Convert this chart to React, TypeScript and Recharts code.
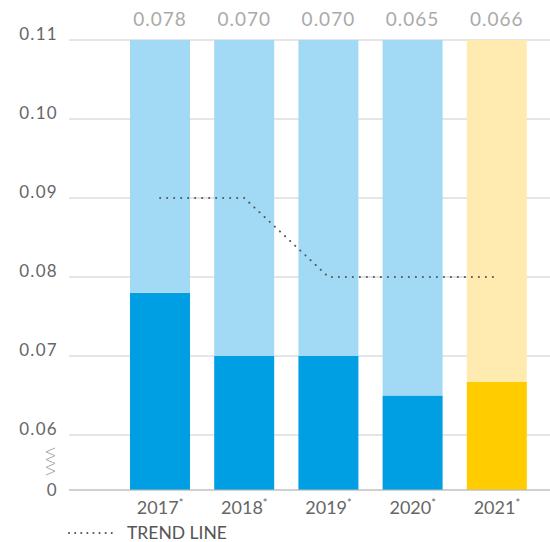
import React from 'react';
import { ComposedChart, Bar, Line, XAxis, YAxis, CartesianGrid, Cell, LabelList, Customized } from 'recharts';

const categories = ['2017', '2018', '2019', '2020', '2021'];
const values = [0.078, 0.07, 0.07, 0.065, 0.0667];
const valueLabels = ['0.078', '0.070', '0.070', '0.065', '0.066'];
const trend = [0.09, 0.09, 0.08, 0.08, 0.08];
const yTicks = [0, 0.06, 0.07, 0.08, 0.09, 0.1, 0.11];
const yMax = 0.11;
const breakAt = 0.06;

const darkColors = ['#009FE3', '#009FE3', '#009FE3', '#009FE3', '#FFCC00'];
const lightColors = ['#A2DAF6', '#A2DAF6', '#A2DAF6', '#A2DAF6', '#FFEBB0'];

// broken axis: the 0..0.06 span is compressed
const B = 0.01 * 55 / 79;
const f = (v: number) => (v >= breakAt ? v - breakAt + B : (v / breakAt) * B);

const data = categories.map((c, i) => ({
  name: c,
  dark: f(values[i]),
  light: f(yMax) - f(values[i]),
  trend: f(trend[i]),
  label: valueLabels[i],
}));

const FONT = 'Lato, "Noto Sans", sans-serif';

const YTick = (props: any) => {
  const { x, y, payload } = props;
  const idx = yTicks.findIndex((t) => Math.abs(f(t) - payload.value) < 1e-9);
  const v = idx >= 0 ? yTicks[idx] : 0;
  const txt = v === 0 ? '0' : v.toFixed(2);
  return (
    <text x={x} y={y} dy={v === 0 ? 6 : 0} textAnchor="end" fill="#666" fontSize={17} letterSpacing={1.3} fontFamily={FONT}>
      {txt}
    </text>
  );
};

const XTick = (props: any) => {
  const { x, y, payload } = props;
  return (
    <text x={x} y={y} dy={16} textAnchor="middle" fill="#666" fontSize={18} fontFamily={FONT}>
      {payload.value}
      <tspan fontSize={11} dy={-7}>*</tspan>
    </text>
  );
};

const Zigzag = () => {
  const pts: string[] = [];
  const n = 7;
  for (let i = 0; i <= n; i++) {
    const yy = 448 + (i * 27) / n;
    const xx = i % 2 === 0 ? 55 : 46;
    pts.push(`${xx},${yy}`);
  }
  return <polyline points={pts.join(' ')} fill="none" stroke="#aaa" strokeWidth={1} />;
};

export default function App() {
  return (
    <div style={{ position: 'absolute', left: 0, top: 0, width: 550, height: 542, background: '#fff' }}>
      <ComposedChart
        width={550}
        height={542}
        data={data}
        margin={{ top: 40, right: 0, left: 0, bottom: 22 }}
        barSize={60}
      >
        <CartesianGrid vertical={false} stroke="#cccccc" />
        <XAxis
          dataKey="name"
          height={30}
          padding={{ left: 49, right: 11 }}
          tickLine={false}
          axisLine={{ stroke: '#bbb' }}
          tick={<XTick />}
          interval={0}
        />
        <YAxis
          width={69}
          domain={[0, f(yMax)]}
          ticks={yTicks.map(f)}
          tick={<YTick />}
          tickLine={false}
          axisLine={false}
          tickMargin={5}
          allowDataOverflow
        />
        <Bar dataKey="dark" stackId="s" isAnimationActive={false}>
          {data.map((d, i) => (
            <Cell key={d.name} fill={darkColors[i]} />
          ))}
        </Bar>
        <Bar dataKey="light" stackId="s" isAnimationActive={false}>
          {data.map((d, i) => (
            <Cell key={d.name} fill={lightColors[i]} />
          ))}
          <LabelList dataKey="label" position="top" offset={14} fill="#aaa" fontSize={19} letterSpacing={1} fontFamily={FONT} />
        </Bar>
        <Line
          dataKey="trend"
          type="linear"
          stroke="#555"
          strokeWidth={2}
          strokeDasharray="0.1 6.9"
          strokeLinecap="round"
          dot={false}
          activeDot={false}
          isAnimationActive={false}
        />
        <Customized component={Zigzag} />
      </ComposedChart>
      <div
        style={{
          position: 'absolute',
          left: 68,
          top: 523,
          display: 'flex',
          alignItems: 'center',
          fontFamily: FONT,
          fontSize: 17.5,
          color: '#555',
          lineHeight: '20px',
        }}
      >
        <svg width={52} height={20}>
          <line x1={1} y1={10} x2={44} y2={10} stroke="#555" strokeWidth={2} strokeDasharray="0.1 6" strokeLinecap="round" />
        </svg>
        <span style={{ marginLeft: 7 }}>TREND LINE</span>
      </div>
    </div>
  );
}
